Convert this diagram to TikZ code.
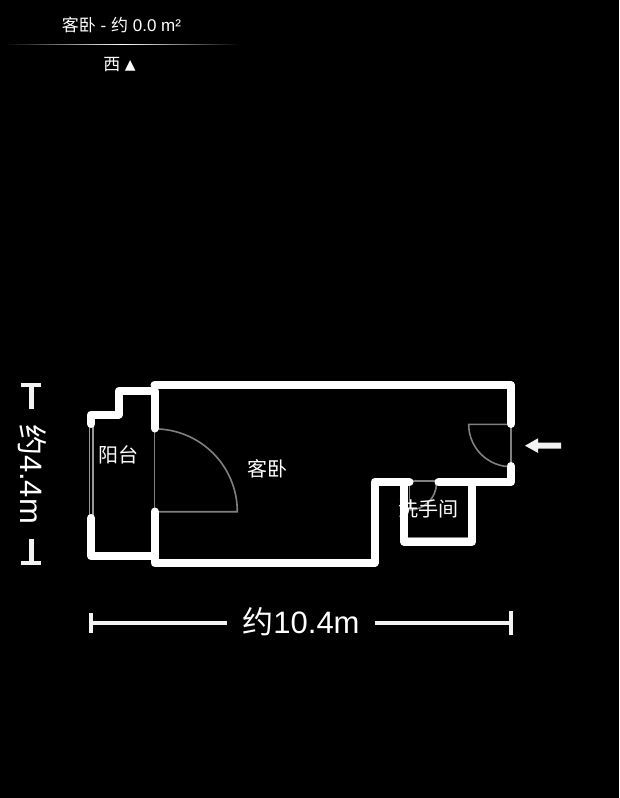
\documentclass[tikz,border=0pt]{standalone}
\usepackage{fontspec}
\setmainfont{Liberation Sans}
\newfontfamily\cjk{Noto Sans CJK SC}
\newfontfamily\symb{DejaVu Sans}
\tikzset{
  wall/.style={draw=white,line width=8pt,line cap=round,line join=round},
  doorline/.style={draw=white!50!black,line width=1.6pt},
  windowline/.style={draw=white!60!black,line width=1.6pt},
  dimline/.style={draw=white!95!black,line width=4pt},
  dimstem/.style={draw=white!95!black,line width=5.5pt},
  label/.style={text=white,inner sep=0pt,font=\cjk\fontsize{20}{20}\selectfont},
  dimlabel/.style={text=white,inner sep=0pt,font=\fontsize{31}{31}\selectfont},
  toplabel/.style={text=white,inner sep=0pt,font=\fontsize{17}{17}\selectfont},
}
\begin{document}
\begin{tikzpicture}[x=1pt,y=-1pt]
\useasboundingbox[fill=black] (0,0) rectangle (619,798);
% header
\node[toplabel] (title) at (121.5,25) {{\cjk 客卧} - {\cjk 约} 0.0 m²};
\shade[left color=black,right color=black,middle color=white] (5,44) rectangle (240,44.8);
\node[toplabel] (west) at (119.5,65) {{\cjk 西} \raisebox{1.5pt}{\symb\fontsize{14}{14}\selectfont ▲}};
% window and doors (under walls)
\draw[windowline] (89.4,425) -- (89.4,516);
\draw[windowline] (92.8,425) -- (92.8,516);
\draw[doorline] (154.5,430) -- (154.5,510);
\draw[doorline] (154.5,511.7) -- (237.3,511.7) arc[start angle=0,end angle=-90,radius=82.8];
\draw[doorline] (511,426) -- (511,465);
\draw[doorline] (511,424.4) -- (468.7,424.4) arc[start angle=180,end angle=95,radius=42.3];
\draw[doorline] (410,481) -- (436,481);
\draw[doorline] (409.6,483) -- (409.6,509);
\draw[doorline] (436.5,483) arc[start angle=0,end angle=90,radius=27];
\draw[doorline,line width=1pt] (407,537.6) -- (468,537.6);
% walls
\draw[wall] (154.5,385) -- (511,385) -- (511,424);
\draw[wall] (511,466) -- (511,482) -- (438.5,482);
\draw[wall] (409.5,482) -- (374.5,482) -- (374.5,563) -- (154.5,563) -- (154.5,511.5);
\draw[wall] (154.5,428.5) -- (154.5,391) -- (118.7,391) -- (118.7,414.5) -- (91,414.5) -- (91,424);
\draw[wall] (91,518) -- (91,556) -- (154.5,556);
\draw[wall] (404,482) -- (404,541.5) -- (472,541.5) -- (472,482);
% entrance arrow
\fill[white!95!black] (525,445.7) -- (538,438.3) -- (538,442.7) -- (561,442.7) -- (561,448.7) -- (538,448.7) -- (538,452.9) -- cycle;
% room labels
\node[label] (kewo) at (267,469) {客卧};
\node[label] (yangtai) at (118,455) {阳台};
\node[label] (xishou) at (428,509) {洗手间};
% horizontal dimension
\draw[dimline] (90.7,623) -- (226.7,623);
\draw[dimline] (375,623) -- (510.7,623);
\draw[dimline] (90.7,613) -- (90.7,633);
\draw[dimline] (511,611) -- (511,635);
\node[dimlabel] (dimh) at (301,622) {{\cjk 约}10.4m};
% vertical dimension
\draw[dimline] (20.7,385) -- (40.7,385);
\draw[dimstem] (31.5,385) -- (31.5,409);
\draw[dimstem] (31.5,539) -- (31.5,563);
\draw[dimline] (20.7,563) -- (40.7,563);
\node[dimlabel,rotate=-90] (dimv) at (32.5,474) {{\cjk 约}4.4m};
\end{tikzpicture}
\end{document}
